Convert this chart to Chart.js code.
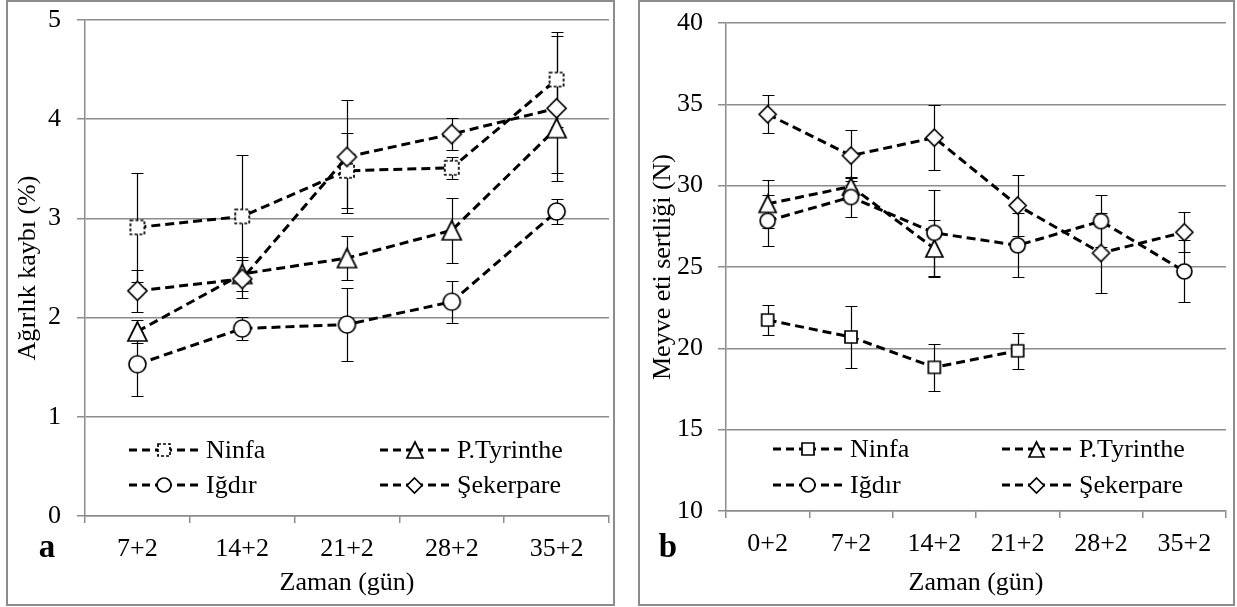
<!DOCTYPE html>
<html>
<head>
<meta charset="utf-8">
<script src="https://cdn.jsdelivr.net/npm/chart.js@4.4.0/dist/chart.umd.min.js"></script>
<style>
body { margin: 0; background: #fff; }
#sayfa { position: relative; width: 1237px; height: 607px; overflow: hidden; }
canvas { position: absolute; top: 0; }
.cerceve { position: absolute; box-sizing: border-box; border: 2px solid #8c8c8c; pointer-events: none; }
</style>
</head>
<body>
<div id="sayfa">
  <div class="cerceve" style="left:6px;top:0;width:609px;height:606px"></div>
  <div class="cerceve" style="left:638px;top:0;width:597px;height:606px"></div>
  <canvas id="grafikA" width="620" height="607" style="left:0"></canvas>
  <canvas id="grafikB" width="617" height="607" style="left:620px"></canvas>
</div>
<script>
// Çeşit adları
const cesitler = ['Ninfa', 'P.Tyrinthe', 'Iğdır', 'Şekerpare'];

// a) Ağırlık kaybı (%)
const gunlerA = ['7+2', '14+2', '21+2', '28+2', '35+2'];
const yTikA = [0, 1, 2, 3, 4, 5];
const ninfaA = [2.91, 3.02, 3.48, 3.51, 4.40];
const ninfaAHata = [0.55, 0.62, 0.38, 0.11, 0.48];
const tyrintheA = [1.86, 2.44, 2.60, 2.88, 3.91];
const tyrintheAHata = [0.12, 0.17, 0.22, 0.33, 0.45];
const igdirA = [1.53, 1.89, 1.93, 2.16, 3.07];
const igdirAHata = [0.32, 0.12, 0.37, 0.21, 0.13];
const sekerpareA = [2.27, 2.39, 3.62, 3.85, 4.11];
const sekerpareAHata = [0.21, 0.19, 0.57, 0.16, 0.73];

// b) Meyve eti sertliği (N)
const gunlerB = ['0+2', '7+2', '14+2', '21+2', '28+2', '35+2'];
const yTikB = [10, 15, 20, 25, 30, 35, 40];
const ninfaB = [21.74, 20.70, 18.83, 19.85, null, null];
const ninfaBHata = [0.95, 1.93, 1.43, 1.10, null, null];
const tyrintheB = [28.88, 29.95, 26.14, null, null, null];
const tyrintheBHata = [1.48, 0.55, 1.74, null, null, null];
const igdirB = [27.84, 29.30, 27.10, 26.33, 27.82, 24.73];
const igdirBHata = [1.56, 1.25, 2.66, 1.97, 1.61, 1.90];
const sekerpareB = [34.39, 31.85, 32.95, 28.78, 25.86, 27.14];
const sekerpareBHata = [1.18, 1.55, 2.00, 1.87, 2.43, 1.23];

const griRenk = '#8c8c8c';
Chart.defaults.font.family = "'Liberation Serif', 'Times New Roman', serif";
Chart.defaults.font.size = 26;
Chart.defaults.color = '#000';

// Excel tarzı işaretçi (beyaz dolgu, siyah kenar)
function isaretci(forma, boyut, kesikli) {
    const c = document.createElement('canvas');
    c.width = c.height = Math.ceil(boyut) + 4;
    const ctx = c.getContext('2d');
    const m = c.width / 2, r = boyut / 2;
    ctx.lineWidth = 1.7;
    ctx.strokeStyle = '#000';
    ctx.fillStyle = '#fff';
    if (kesikli) ctx.setLineDash([3, 2]);
    ctx.beginPath();
    if (forma === 'kare') ctx.rect(m - r, m - r, boyut, boyut);
    else if (forma === 'daire') ctx.arc(m, m, r, 0, Math.PI * 2);
    else if (forma === 'ucgen') { ctx.moveTo(m, m - r); ctx.lineTo(m + r, m + r); ctx.lineTo(m - r, m + r); ctx.closePath(); }
    else { ctx.moveTo(m, m - r); ctx.lineTo(m + r, m); ctx.lineTo(m, m + r); ctx.lineTo(m - r, m); ctx.closePath(); }
    ctx.fill();
    ctx.stroke();
    return c;
}

// Hata çubukları (noktaların arkasında)
const hataCubugu = {
    id: 'hataCubugu',
    beforeDatasetsDraw(chart) {
        const ctx = chart.ctx;
        const y = chart.scales.y;
        ctx.save();
        ctx.strokeStyle = '#000';
        ctx.lineWidth = 1.2;
        chart.data.datasets.forEach((ds, i) => {
            const meta = chart.getDatasetMeta(i);
            ds.data.forEach((v, j) => {
                if (v == null) return;
                const x = Math.round(meta.data[j].x) + 0.5;
                const y1 = Math.round(y.getPixelForValue(v + ds.hata[j])) + 0.5;
                const y2 = Math.round(y.getPixelForValue(v - ds.hata[j])) + 0.5;
                ctx.beginPath();
                ctx.moveTo(x, y1); ctx.lineTo(x, y2);
                ctx.moveTo(x - 6, y1); ctx.lineTo(x + 6, y1);
                ctx.moveTo(x - 6, y2); ctx.lineTo(x + 6, y2);
                ctx.stroke();
            });
        });
        ctx.restore();
    }
};

// Grafik içindeki açıklama (2 sütun, 2 satır)
const aciklama = {
    id: 'aciklama',
    afterDraw(chart, args, opts) {
        const {ctx, chartArea} = chart;
        ctx.save();
        chart.data.datasets.forEach((ds, i) => {
            const x0 = chartArea.left + opts.sutun[i % 2];
            const y = chartArea.bottom - opts.satir[Math.floor(i / 2)];
            ctx.strokeStyle = '#000';
            ctx.lineWidth = 3;
            ctx.setLineDash([8, 5]);
            ctx.beginPath();
            ctx.moveTo(x0, y); ctx.lineTo(x0 + 34, y);
            ctx.stroke();
            ctx.beginPath();
            ctx.moveTo(x0 + 69, y); ctx.lineTo(x0 + 35, y);
            ctx.stroke();
            ctx.setLineDash([]);
            const img = opts.isaretler[i];
            ctx.drawImage(img, Math.round(x0 + 34.5 - img.width / 2), Math.round(y - img.height / 2));
            ctx.fillStyle = '#000';
            ctx.font = "26px 'Liberation Serif'";
            ctx.textBaseline = 'middle';
            ctx.fillText(ds.label, x0 + 77, y + 1);
        });
        ctx.restore();
    }
};

// Panel harfi (a / b)
const panelHarfi = {
    id: 'panelHarfi',
    afterDraw(chart, args, opts) {
        const ctx = chart.ctx;
        ctx.save();
        ctx.fillStyle = '#000';
        ctx.font = "bold 33px 'Liberation Serif'";
        ctx.textAlign = 'center';
        ctx.textBaseline = 'alphabetic';
        ctx.fillText(opts.harf, opts.x, opts.y);
        ctx.restore();
    }
};

function grafikKur(id, gunler, seriler, hatalar, yTik, yBaslik, ayar) {
    const datasets = seriler.map((veri, i) => ({
        label: cesitler[i],
        data: veri,
        hata: hatalar[i],
        borderColor: '#000',
        borderWidth: 3,
        borderDash: [9, 5],
        pointStyle: ayar.isaretler[i],
        pointRadius: 8,
        tension: 0,
        order: 4 - i
    }));
    return new Chart(document.getElementById(id), {
        type: 'line',
        data: { labels: gunler, datasets: datasets },
        options: {
            responsive: false,
            animation: false,
            events: [],
            layout: { padding: ayar.dolgu },
            scales: {
                x: {
                    offset: true,
                    grid: { drawOnChartArea: false, color: griRenk, lineWidth: 1.5, tickLength: 7, offset: true },
                    border: { color: griRenk, width: 1.5 },
                    ticks: { padding: 11, maxRotation: 0 },
                    title: { display: true, text: 'Zaman (gün)', padding: { top: 0, bottom: 8 } },
                    afterFit: s => { s.height = ayar.xYukseklik; s.paddingLeft = 0; s.paddingRight = 0; }
                },
                y: {
                    min: yTik[0],
                    max: yTik[yTik.length - 1],
                    afterBuildTicks: s => { s.ticks = yTik.map(v => ({ value: v })); },
                    grid: { color: griRenk, lineWidth: 1.5, tickLength: 8 },
                    border: { color: griRenk, width: 1.5 },
                    ticks: { padding: ayar.yDolgu },
                    title: { display: true, text: yBaslik, padding: { top: ayar.baslikDolgu, bottom: 0 } },
                    afterFit: s => { s.width = ayar.yGenislik; s.paddingTop = 0; s.paddingBottom = 0; }
                }
            },
            plugins: {
                legend: { display: false },
                tooltip: { enabled: false },
                aciklama: { sutun: ayar.sutun, satir: ayar.satir, isaretler: ayar.aciklamaIsaret },
                panelHarfi: ayar.harf
            }
        },
        plugins: [hataCubugu, aciklama, panelHarfi]
    });
}

grafikKur('grafikA', gunlerA,
    [ninfaA, tyrintheA, igdirA, sekerpareA],
    [ninfaAHata, tyrintheAHata, igdirAHata, sekerpareAHata],
    yTikA, 'Ağırlık kaybı (%)', {
        dolgu: { top: 20, right: 8, bottom: 0, left: 0 },
        xYukseklik: 91, yGenislik: 85, yDolgu: 16, baslikDolgu: 13,
        isaretler: [isaretci('kare', 14, true), isaretci('ucgen', 19), isaretci('daire', 17), isaretci('baklava', 19)],
        aciklamaIsaret: [isaretci('kare', 12, true), isaretci('ucgen', 16), isaretci('daire', 14), isaretci('baklava', 15)],
        sutun: [44, 295], satir: [66, 31],
        harf: { harf: 'a', x: 47, y: 557 }
    });

grafikKur('grafikB', gunlerB,
    [ninfaB, tyrintheB, igdirB, sekerpareB],
    [ninfaBHata, tyrintheBHata, igdirBHata, sekerpareBHata],
    yTikB, 'Meyve eti sertliği (N)', {
        dolgu: { top: 23, right: 4, bottom: 0, left: 0 },
        xYukseklik: 96, yGenislik: 106, yDolgu: 15, baslikDolgu: 28,
        isaretler: [isaretci('kare', 12), isaretci('ucgen', 17), isaretci('daire', 15), isaretci('baklava', 17)],
        aciklamaIsaret: [isaretci('kare', 12), isaretci('ucgen', 15), isaretci('daire', 14), isaretci('baklava', 15)],
        sutun: [47, 276], satir: [62, 26],
        harf: { harf: 'b', x: 48, y: 557 }
    });
</script>
</body>
</html>
